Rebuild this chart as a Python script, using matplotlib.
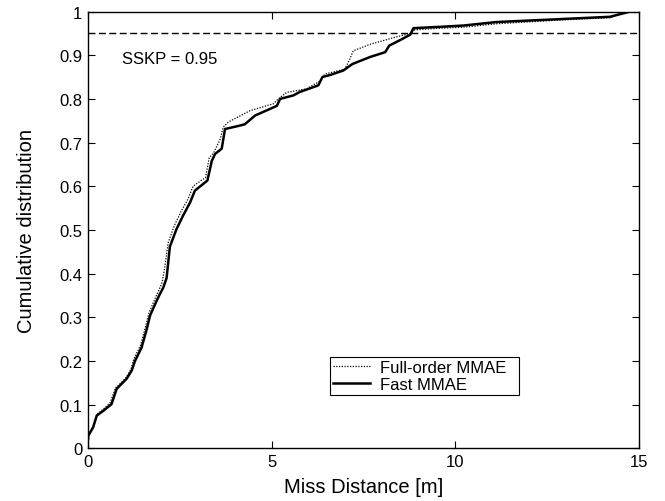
import matplotlib
matplotlib.use("Agg")
import matplotlib.pyplot as plt

plt.rcParams['font.family'] = ['Liberation Sans', 'DejaVu Sans']

# Fast MMAE (solid)
fast_x = [0, 0.01, 0.14, 0.24, 0.42, 0.64, 0.78, 1.05, 1.19, 1.28, 1.46, 1.60, 1.69, 1.87,
          1.95, 2.05, 2.14, 2.23, 2.41, 2.59, 2.78, 2.91, 3.25, 3.37, 3.46, 3.64, 3.73, 4.14,
          4.27, 4.55, 5.14, 5.23, 5.59, 5.77, 6.27, 6.38, 6.6, 6.95, 7.2, 7.68, 8.09, 8.2,
          8.55, 8.77, 8.86, 9.58, 10.22, 11.12, 12.94, 14.21, 14.76, 15]
fast_y = [0.02, 0.029, 0.048, 0.075, 0.086, 0.101, 0.136, 0.159, 0.178, 0.20, 0.231, 0.273,
          0.304, 0.338, 0.352, 0.368, 0.39, 0.462, 0.502, 0.533, 0.563, 0.59, 0.613, 0.658,
          0.674, 0.686, 0.731, 0.739, 0.742, 0.762, 0.784, 0.80, 0.808, 0.816, 0.831, 0.85,
          0.855, 0.865, 0.88, 0.896, 0.907, 0.922, 0.937, 0.947, 0.962, 0.965, 0.968, 0.976,
          0.983, 0.988, 1.0, 1.0]

# Full-order MMAE (dotted)
full_x = [0, 0.02, 0.15, 0.24, 0.42, 0.6, 0.75, 1.02, 1.17, 1.25, 1.43, 1.57, 1.66, 1.82,
          1.92, 2.02, 2.1, 2.18, 2.35, 2.55, 2.72, 2.86, 3.2, 3.3, 3.41, 3.6, 3.68, 3.82,
          4.41, 5.05, 5.18, 5.41, 5.95, 6.3, 6.45, 6.99, 7.13, 7.22, 7.68, 8.31, 8.77, 8.9,
          9.6, 10.2, 11.12, 12.94, 14.21, 14.4, 14.76, 15]
full_y = [0.02, 0.032, 0.05, 0.077, 0.09, 0.104, 0.138, 0.16, 0.181, 0.205, 0.236, 0.28,
          0.31, 0.342, 0.36, 0.38, 0.42, 0.47, 0.51, 0.545, 0.57, 0.6, 0.62, 0.665, 0.675,
          0.708, 0.735, 0.747, 0.773, 0.789, 0.80, 0.815, 0.823, 0.84, 0.857, 0.868, 0.892,
          0.91, 0.925, 0.94, 0.95, 0.958, 0.962, 0.964, 0.972, 0.981, 0.986, 0.993, 1.0, 1.0]

sskp = 0.95
x_ticks = [0, 5, 10, 15]
y_ticks = [0, 0.1, 0.2, 0.3, 0.4, 0.5, 0.6, 0.7, 0.8, 0.9, 1]
y_ticklabels = ['0', '0.1', '0.2', '0.3', '0.4', '0.5', '0.6', '0.7', '0.8', '0.9', '1']

fig = plt.figure(figsize=(6.65, 5.02), dpi=100)
ax = fig.add_axes([0.1323, 0.105, 0.8287, 0.870])

ax.plot(full_x, full_y, color='black', linestyle=(0, (1, 1.2)), linewidth=0.9,
        label='Full-order MMAE')
ax.plot(fast_x, fast_y, color='black', linestyle='-', linewidth=1.8, label='Fast MMAE')
ax.axhline(sskp, color='black', linestyle=(0, (5, 2.5)), linewidth=1.0)
ax.text(0.93, 0.892, 'SSKP = 0.95', fontsize=12, va='center', ha='left')

ax.set_xlim(0, 15)
ax.set_ylim(0, 1)
ax.set_xticks(x_ticks)
ax.set_xticklabels([str(t) for t in x_ticks])
ax.set_yticks(y_ticks)
ax.set_yticklabels(y_ticklabels)
ax.tick_params(direction='in', length=5, width=0.8, top=True, right=True,
               labelsize=12, pad=4)
for s in ax.spines.values():
    s.set_linewidth(1.0)

ax.set_xlabel('Miss Distance [m]', fontsize=14.5, labelpad=6)
ax.set_ylabel('Cumulative distribution', fontsize=14.5, labelpad=17)

leg = ax.legend(loc='lower left', bbox_to_anchor=(0.439, 0.122, 0.343, 0.099),
                mode='expand', fontsize=12, frameon=True, fancybox=False,
                edgecolor='black', framealpha=1, handlelength=2.2,
                borderpad=0.2, labelspacing=0.1, handletextpad=0.6, borderaxespad=0)
leg.get_frame().set_linewidth(0.8)

fig.savefig('out.png', dpi=100)
